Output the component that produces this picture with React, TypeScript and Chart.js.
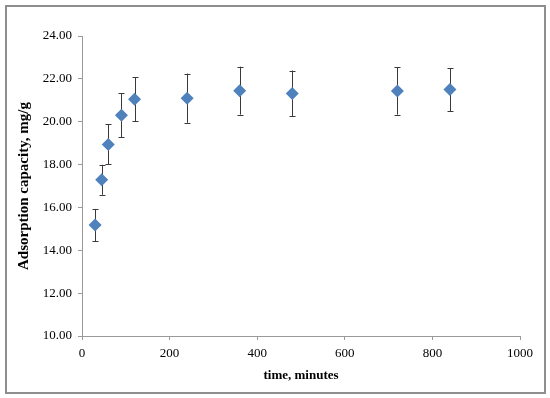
import React, { useEffect, useRef } from "react";
import { Chart, registerables } from "chart.js";

Chart.register(...registerables);

const timeMinutes = [30, 45, 60, 90, 120, 240, 360, 480, 720, 840];
const capacity = [15.18, 17.29, 18.94, 20.3, 21.05, 21.1, 21.45, 21.32, 21.43, 21.5];
const errorAmount = [0.75, 0.7, 0.93, 1.02, 1.03, 1.15, 1.12, 1.07, 1.1, 1.0];

const xTitle = "time, minutes";
const yTitle = "Adsorption capacity, mg/g";

const FONT = "'Liberation Serif', 'Times New Roman', serif";

const errorBarPlugin = {
  id: "errorBars",
  beforeDatasetsDraw(chart: any) {
    const ctx = chart.ctx;
    const xs = chart.scales.x;
    const ys = chart.scales.y;
    ctx.save();
    ctx.strokeStyle = "#3a3a3a";
    ctx.lineWidth = 1;
    for (let i = 0; i < timeMinutes.length; i++) {
      const px = Math.round(xs.getPixelForValue(timeMinutes[i])) + 0.5;
      const top = ys.getPixelForValue(capacity[i] + errorAmount[i]);
      const bot = ys.getPixelForValue(capacity[i] - errorAmount[i]);
      ctx.beginPath();
      ctx.moveTo(px, top);
      ctx.lineTo(px, bot);
      ctx.moveTo(px - 3, Math.round(top) + 0.5);
      ctx.lineTo(px + 3, Math.round(top) + 0.5);
      ctx.moveTo(px - 3, Math.round(bot) + 0.5);
      ctx.lineTo(px + 3, Math.round(bot) + 0.5);
      ctx.stroke();
    }
    ctx.restore();
  },
};

export default function App() {
  const ref = useRef<HTMLCanvasElement | null>(null);
  useEffect(() => {
    if (!ref.current) return;
    const chart = new Chart(ref.current, {
      type: "scatter",
      data: {
        datasets: [
          {
            data: timeMinutes.map((t, i) => ({ x: t, y: capacity[i] })),
            pointStyle: "rectRot",
            pointRadius: 6.5,
            backgroundColor: "#4F81BD",
            borderColor: "#4F81BD",
            borderWidth: 0,
          },
        ],
      },
      options: {
        animation: false,
        responsive: false,
        layout: { padding: { top: 36, right: 30, left: 0, bottom: 0 } },
        plugins: { legend: { display: false }, tooltip: { enabled: false } },
        scales: {
          x: {
            type: "linear",
            min: 0,
            max: 1000,
            afterFit: (s: any) => {
              s.height = 62;
            },
            ticks: {
              stepSize: 200,
              color: "#000",
              padding: 6,
              font: { family: FONT, size: 13 },
              callback: (v: any) => String(v),
            },
            grid: { drawOnChartArea: false, drawTicks: true, tickLength: 4, color: "#9a9a9a" },
            border: { display: true, color: "#9a9a9a" },
            title: {
              display: true,
              text: xTitle,
              color: "#000",
              padding: { top: 0, bottom: 15 },
              font: { family: FONT, size: 13, weight: "bold" },
            },
          },
          y: {
            type: "linear",
            min: 10,
            max: 24,
            afterFit: (s: any) => {
              s.width = 82;
            },
            ticks: {
              stepSize: 2,
              color: "#000",
              padding: 6,
              font: { family: FONT, size: 13 },
              callback: (v: any) => Number(v).toFixed(2),
            },
            grid: { drawOnChartArea: false, drawTicks: true, tickLength: 4, color: "#9a9a9a" },
            border: { display: true, color: "#9a9a9a" },
            title: {
              display: true,
              text: yTitle,
              color: "#000",
              padding: { top: 15, bottom: 0 },
              font: { family: FONT, size: 15, weight: "bold" },
            },
          },
        },
      },
      plugins: [errorBarPlugin],
    } as any);
    return () => chart.destroy();
  }, []);

  return (
    <div style={{ position: "absolute", left: 0, top: 0, width: 550, height: 398, background: "#fff" }}>
      <div
        style={{
          position: "absolute",
          left: 5,
          top: 5,
          width: 537,
          height: 385,
          border: "2px solid #8e8e8e",
        }}
      />
      <canvas ref={ref} width={550} height={398} style={{ position: "absolute", left: 0, top: 0 }} />
    </div>
  );
}
